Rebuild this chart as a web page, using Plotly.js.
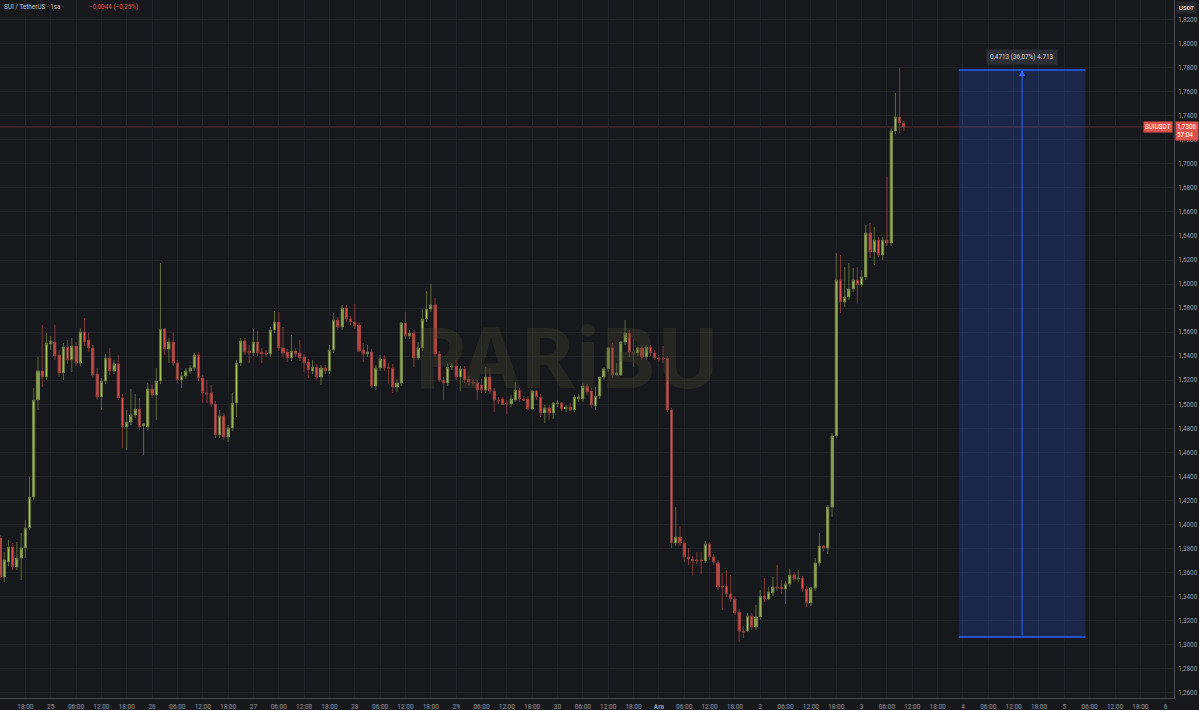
<!DOCTYPE html>
<html><head><meta charset="utf-8">
<script src="https://cdn.plot.ly/plotly-3.0.1.min.js"></script>
<style>html,body{margin:0;padding:0;background:#17181c;overflow:hidden}#chart{width:1199px;height:710px}</style>
</head><body><div id="chart"></div>
<script>
// ---- data (SUI / TetherUS, 1h candles, first candle 24 Nov 12:00) ----
const firstCandle = Date.UTC(2025, 10, 24, 12, 0);
const open = [1.3889,1.3564,1.3689,1.3814,1.3647,1.3722,1.3805,1.3972,1.4229,1.5036,1.5277,1.5227,1.5502,1.5518,1.5410,1.5261,1.5477,1.5369,1.5485,1.5344,1.5602,1.5535,1.5469,1.5252,1.5061,1.5194,1.5385,1.5277,1.5335,1.5053,1.4812,1.4853,1.4911,1.4961,1.4820,1.4812,1.5128,1.5078,1.5194,1.5627,1.5460,1.5518,1.5344,1.5202,1.5236,1.5277,1.5302,1.5410,1.5219,1.5094,1.5094,1.5003,1.4745,1.4903,1.4728,1.4803,1.5011,1.5344,1.5527,1.5443,1.5427,1.5518,1.5435,1.5427,1.5418,1.5618,1.5685,1.5469,1.5435,1.5385,1.5443,1.5427,1.5394,1.5352,1.5277,1.5310,1.5227,1.5302,1.5277,1.5452,1.5701,1.5643,1.5801,1.5710,1.5685,1.5660,1.5452,1.5418,1.5435,1.5152,1.5302,1.5377,1.5310,1.5302,1.5144,1.5177,1.5677,1.5568,1.5593,1.5385,1.5469,1.5710,1.5793,1.5826,1.5418,1.5202,1.5177,1.5310,1.5319,1.5227,1.5294,1.5211,1.5186,1.5177,1.5161,1.5119,1.5227,1.5111,1.5036,1.5045,1.5011,1.5003,1.5036,1.5119,1.5045,1.5045,1.4961,1.5111,1.5061,1.4928,1.4970,1.4928,1.5003,1.5011,1.4961,1.4978,1.4953,1.5045,1.5045,1.5152,1.5111,1.4986,1.5069,1.5227,1.5294,1.5469,1.5244,1.5244,1.5518,1.5593,1.5435,1.5427,1.5469,1.5394,1.5477,1.5427,1.5385,1.5385,1.5385,1.4953,1.3847,1.3897,1.3847,1.3731,1.3714,1.3706,1.3706,1.3697,1.3839,1.3731,1.3681,1.3489,1.3489,1.3423,1.3381,1.3273,1.3115,1.3115,1.3240,1.3149,1.3232,1.3406,1.3381,1.3431,1.3481,1.3481,1.3464,1.3506,1.3581,1.3548,1.3556,1.3464,1.3348,1.3473,1.3681,1.3822,1.3805,1.4146,1.4737,1.6034,1.5851,1.5893,1.5959,1.6034,1.5993,1.6059,1.6425,1.6267,1.6366,1.6242,1.6366,1.6341,1.7272,1.7389,1.7339];
const high = [1.3914,1.3772,1.3872,1.3847,1.3855,1.3930,1.4038,1.4396,1.5136,1.5394,1.5660,1.5593,1.5568,1.5660,1.5452,1.5510,1.5535,1.5552,1.5518,1.5635,1.5718,1.5593,1.5494,1.5302,1.5219,1.5418,1.5469,1.5369,1.5410,1.5086,1.4953,1.5128,1.5086,1.5053,1.4845,1.5177,1.5161,1.5302,1.6175,1.5635,1.5552,1.5593,1.5369,1.5269,1.5302,1.5327,1.5427,1.5435,1.5244,1.5202,1.5161,1.5028,1.4953,1.4928,1.4828,1.5094,1.5369,1.5552,1.5552,1.5494,1.5627,1.5610,1.5469,1.5452,1.5643,1.5776,1.5768,1.5643,1.5460,1.5577,1.5469,1.5535,1.5418,1.5377,1.5369,1.5335,1.5327,1.5327,1.5494,1.5760,1.5726,1.5826,1.5826,1.5735,1.5834,1.5685,1.5510,1.5494,1.5460,1.5327,1.5410,1.5410,1.5344,1.5335,1.5211,1.5685,1.5768,1.5618,1.5618,1.5518,1.5793,1.5943,1.6001,1.5884,1.5443,1.5227,1.5344,1.5344,1.5369,1.5319,1.5319,1.5236,1.5211,1.5202,1.5211,1.5310,1.5302,1.5136,1.5061,1.5061,1.5036,1.5078,1.5186,1.5136,1.5069,1.5069,1.5119,1.5119,1.5086,1.4995,1.4995,1.5020,1.5036,1.5020,1.4995,1.5011,1.5078,1.5086,1.5177,1.5169,1.5136,1.5144,1.5227,1.5310,1.5477,1.5510,1.5344,1.5527,1.5701,1.5618,1.5543,1.5477,1.5494,1.5494,1.5494,1.5452,1.5410,1.5485,1.5402,1.4970,1.4146,1.3988,1.3872,1.3805,1.3739,1.3772,1.3772,1.3864,1.3855,1.3756,1.3706,1.3597,1.3622,1.3581,1.3406,1.3298,1.3157,1.3265,1.3265,1.3332,1.3456,1.3556,1.3481,1.3564,1.3664,1.3539,1.3531,1.3631,1.3606,1.3622,1.3573,1.3489,1.3481,1.3722,1.3930,1.3830,1.4163,1.4762,1.6258,1.6242,1.6142,1.6175,1.6134,1.6142,1.6117,1.6491,1.6508,1.6475,1.6391,1.6391,1.6890,1.7298,1.7589,1.7797,1.7356];
const low = [1.3539,1.3523,1.3656,1.3622,1.3622,1.3539,1.3722,1.3955,1.4205,1.4953,1.5144,1.5202,1.5452,1.5369,1.5227,1.5202,1.5335,1.5269,1.5319,1.5319,1.5485,1.5435,1.5219,1.5036,1.4953,1.5169,1.5244,1.5252,1.5036,1.4645,1.4620,1.4828,1.4886,1.4787,1.4579,1.4787,1.5053,1.4870,1.5169,1.5410,1.5344,1.5319,1.5177,1.5136,1.5211,1.5252,1.5277,1.5194,1.5011,1.5011,1.4978,1.4720,1.4720,1.4703,1.4687,1.4778,1.4895,1.5319,1.5410,1.5344,1.5402,1.5402,1.5344,1.5394,1.5394,1.5593,1.5443,1.5394,1.5352,1.5360,1.5394,1.5360,1.5269,1.5219,1.5252,1.5202,1.5161,1.5252,1.5252,1.5427,1.5618,1.5618,1.5685,1.5660,1.5627,1.5435,1.5352,1.5394,1.5136,1.5119,1.5277,1.5277,1.5177,1.5094,1.5103,1.5152,1.5543,1.5543,1.5310,1.5369,1.5443,1.5685,1.5768,1.5394,1.5186,1.5036,1.5152,1.5285,1.5202,1.5111,1.5177,1.5161,1.5152,1.5036,1.5094,1.5094,1.5086,1.4936,1.5003,1.4995,1.4920,1.4978,1.5020,1.5020,1.5028,1.4953,1.4953,1.5036,1.4895,1.4845,1.4870,1.4878,1.4978,1.4945,1.4936,1.4945,1.4936,1.5020,1.5020,1.5078,1.4970,1.4953,1.5045,1.5202,1.5269,1.5219,1.5236,1.5236,1.5494,1.5394,1.5310,1.5402,1.5369,1.5369,1.5402,1.5369,1.5352,1.5344,1.4936,1.3805,1.3822,1.3822,1.3689,1.3664,1.3581,1.3672,1.3589,1.3681,1.3706,1.3664,1.3456,1.3290,1.3398,1.3356,1.3248,1.3024,1.3057,1.3107,1.3124,1.3124,1.3207,1.3356,1.3373,1.3406,1.3448,1.3423,1.3340,1.3481,1.3523,1.3523,1.3440,1.3315,1.3323,1.3448,1.3656,1.3780,1.3756,1.4063,1.4720,1.5760,1.5810,1.5868,1.5934,1.5843,1.5976,1.6034,1.6217,1.6159,1.6225,1.6200,1.6317,1.6317,1.7248,1.7256,1.7272];
const close = [1.3564,1.3706,1.3814,1.3647,1.3722,1.3805,1.3972,1.4229,1.5036,1.5277,1.5227,1.5510,1.5527,1.5402,1.5261,1.5477,1.5369,1.5485,1.5344,1.5602,1.5518,1.5469,1.5244,1.5061,1.5194,1.5385,1.5277,1.5335,1.5053,1.4812,1.4853,1.4911,1.4961,1.4812,1.4837,1.5128,1.5078,1.5194,1.5627,1.5460,1.5518,1.5344,1.5202,1.5236,1.5277,1.5302,1.5410,1.5219,1.5094,1.5086,1.5003,1.4745,1.4903,1.4728,1.4803,1.5011,1.5344,1.5527,1.5435,1.5427,1.5518,1.5427,1.5418,1.5418,1.5618,1.5685,1.5469,1.5427,1.5385,1.5443,1.5418,1.5385,1.5344,1.5285,1.5310,1.5227,1.5302,1.5277,1.5452,1.5701,1.5643,1.5801,1.5710,1.5685,1.5652,1.5443,1.5418,1.5435,1.5152,1.5302,1.5377,1.5302,1.5302,1.5144,1.5177,1.5677,1.5568,1.5593,1.5385,1.5469,1.5710,1.5793,1.5826,1.5418,1.5202,1.5177,1.5310,1.5319,1.5227,1.5294,1.5202,1.5186,1.5177,1.5119,1.5119,1.5227,1.5111,1.5036,1.5028,1.4995,1.5003,1.5045,1.5119,1.5045,1.5036,1.4961,1.5111,1.5061,1.4928,1.4970,1.4928,1.5011,1.5011,1.4961,1.4978,1.4953,1.5061,1.5061,1.5152,1.5103,1.4995,1.5069,1.5227,1.5294,1.5469,1.5244,1.5261,1.5518,1.5593,1.5435,1.5427,1.5469,1.5394,1.5477,1.5427,1.5385,1.5377,1.5377,1.4953,1.3847,1.3897,1.3847,1.3731,1.3714,1.3697,1.3697,1.3697,1.3839,1.3731,1.3689,1.3481,1.3481,1.3423,1.3381,1.3265,1.3115,1.3107,1.3240,1.3149,1.3232,1.3406,1.3381,1.3440,1.3481,1.3473,1.3464,1.3506,1.3581,1.3548,1.3556,1.3464,1.3348,1.3473,1.3681,1.3822,1.3805,1.4146,1.4737,1.6034,1.5851,1.5893,1.5959,1.6034,1.5993,1.6059,1.6425,1.6267,1.6366,1.6242,1.6366,1.6341,1.7272,1.7389,1.7339,1.7306];

const dayLabels = ['25','26','27','28','29','30','Ara','2','3','4','5','6'];
const hourLabels = ['06:00','12:00','18:00'];
const xRange = ['2025-11-24 12:00', '2025-12-06 01:58'];
const yRange = [1.2558, 1.8362];

const symbolText = 'SUI / TetherUS · 1sa ·';
const changeText = '−0,0044 (−0,25%)';
const lastPrice = 1.7306;
const lastPriceText = '1,7306';
const countdown = '57:04';
const ticker = 'SUIUSDT';
const quote = 'USDT';

const measureStart = '2025-12-03 23:00';
const measureEnd = '2025-12-05 05:00';
const measureMid = '2025-12-04 14:00';
const measureLow = 1.3066;
const measureHigh = 1.7779;
const measureText = '0,4713 (36,07%) 4.713';

const watermark = 'PARiBU';

// ---- build ----
const H = 3600000;
function fmt(ms){ return new Date(ms).toISOString().slice(0,16).replace('T',' '); }
const times = open.map((_, i) => fmt(firstCandle + i*H));

const tickVals = [], tickText = [];
let t = firstCandle;
const endTick = Date.UTC(2025, 11, 6, 0, 0);
let dayIdx = 0;
while (t <= endTick) {
  const hr = new Date(t).getUTCHours();
  tickVals.push(fmt(t));
  if (hr === 0) { const lab = dayLabels[dayIdx++]; tickText.push(lab === 'Ara' ? '<b>Ara</b>' : lab); }
  else tickText.push(hr === 6 ? hourLabels[0] : hr === 12 ? hourLabels[1] : hourLabels[2]);
  t += 6*H;
}

const GREEN = '#a9c65a', RED = '#e0534d';
const GREEN_WICK = '#5c6a3c', RED_WICK = '#7e3b39';
const BG = '#17181c', GRID = '#212228', AXIS_TXT = '#9a9da6';
const FONT = 'Roboto, "Noto Sans", sans-serif';

const wicks = {
  type: 'candlestick', x: times, open: open, high: high, low: low, close: close,
  increasing: {line: {color: GREEN_WICK, width: 1}, fillcolor: GREEN},
  decreasing: {line: {color: RED_WICK, width: 1}, fillcolor: RED},
  whiskerwidth: 0, hoverinfo: 'skip', showlegend: false
};
const bodies = {
  type: 'bar', x: times,
  base: open.map((o, i) => Math.min(o, close[i])),
  y: open.map((o, i) => Math.abs(close[i] - o)),
  width: open.map(() => 0.72*H),
  marker: {color: open.map((o, i) => close[i] >= o ? GREEN : RED), line: {width: 0}},
  hoverinfo: 'skip', showlegend: false
};

const layout = {
  width: 1199, height: 710,
  paper_bgcolor: BG, plot_bgcolor: BG,
  margin: {l: 0, r: 25, t: 0, b: 12, pad: 0},
  separators: ',.',
  font: {family: FONT, color: AXIS_TXT, size: 6.4},
  showlegend: false, barmode: 'overlay', bargap: 0,
  xaxis: {
    type: 'date', range: xRange, tickmode: 'array', tickvals: tickVals, ticktext: tickText,
    showgrid: true, gridcolor: GRID, gridwidth: 1, zeroline: false,
    showline: true, linecolor: '#4a4c54', linewidth: 1, ticks: 'outside', ticklen: 2, tickcolor: BG,
    tickfont: {size: 6.5, color: AXIS_TXT, family: FONT}, rangeslider: {visible: false}, fixedrange: true
  },
  yaxis: {
    side: 'right', range: yRange, tick0: 1.26, dtick: 0.02, tickformat: '.4f',
    showgrid: true, gridcolor: GRID, gridwidth: 1, zeroline: false,
    showline: true, linecolor: '#4a4c54', linewidth: 1, ticks: 'outside', ticklen: 2, tickcolor: BG,
    tickfont: {size: 6.3, color: AXIS_TXT, family: FONT}, fixedrange: true
  },
  shapes: [
    {type: 'line', xref: 'paper', x0: 0, x1: 1, yref: 'y', y0: lastPrice, y1: lastPrice,
     line: {color: 'rgba(224,83,77,0.35)', width: 1}, layer: 'below'},
    {type: 'rect', xref: 'x', yref: 'y', x0: measureStart, x1: measureEnd, y0: measureLow, y1: measureHigh,
     fillcolor: 'rgba(41,98,255,0.2)', line: {width: 0}, layer: 'above'},
    {type: 'line', xref: 'x', yref: 'y', x0: measureStart, x1: measureEnd, y0: measureHigh, y1: measureHigh,
     line: {color: '#2962ff', width: 1.5}},
    {type: 'line', xref: 'x', yref: 'y', x0: measureStart, x1: measureEnd, y0: measureLow, y1: measureLow,
     line: {color: '#2962ff', width: 1.5}}
  ],
  annotations: [
    {xref: 'paper', yref: 'paper', x: 0.483, y: 0.49, text: '<b>' + watermark + '</b>', showarrow: false,
     font: {size: 84, color: 'rgba(70,72,46,0.32)', family: 'Noto Sans, sans-serif'}},
    {xref: 'paper', yref: 'paper', x: 0.002, y: 1, xanchor: 'left', yanchor: 'top', yshift: -1,
     text: symbolText, showarrow: false, font: {size: 6.4, color: '#c3c6ce', family: FONT}},
    {xref: 'paper', yref: 'paper', x: 0.074, y: 1, xanchor: 'left', yanchor: 'top', yshift: -1,
     text: changeText, showarrow: false, font: {size: 6.4, color: RED, family: FONT}},
    {xref: 'paper', yref: 'paper', x: 1, y: 1, xanchor: 'left', yanchor: 'top', xshift: 2, yshift: -1,
     text: '<b>' + quote + '</b>', showarrow: false, bgcolor: '#26272d', borderpad: 2,
     font: {size: 6, color: '#d1d4dc', family: FONT}},
    {xref: 'paper', yref: 'y', x: 1, y: lastPrice, xanchor: 'left', yanchor: 'top', yshift: 6, xshift: 1,
     text: lastPriceText + '<br>' + countdown, showarrow: false, bgcolor: RED, borderpad: 1, align: 'left',
     font: {size: 6.4, color: '#ffffff', family: FONT}},
    {xref: 'paper', yref: 'y', x: 1, y: lastPrice, xanchor: 'right', yanchor: 'middle', xshift: -1,
     text: ticker, showarrow: false, bgcolor: RED, borderpad: 1, font: {size: 6.4, color: '#ffffff', family: FONT}},
    {xref: 'x', yref: 'y', x: measureMid, y: measureHigh, axref: 'x', ayref: 'y', ax: measureMid, ay: measureLow,
     text: '', showarrow: true, arrowhead: 2, arrowsize: 1.2, arrowwidth: 1, arrowcolor: '#2962ff', standoff: 0},
    {xref: 'x', yref: 'y', x: measureMid, y: measureHigh, yanchor: 'bottom', yshift: 5,
     text: measureText, showarrow: false, bgcolor: '#2c2e35', borderpad: 3,
     font: {size: 6.4, color: '#d1d4dc', family: FONT}}
  ]
};

Plotly.newPlot('chart', [wicks, bodies], layout, {displayModeBar: false, staticPlot: true});
</script></body></html>
